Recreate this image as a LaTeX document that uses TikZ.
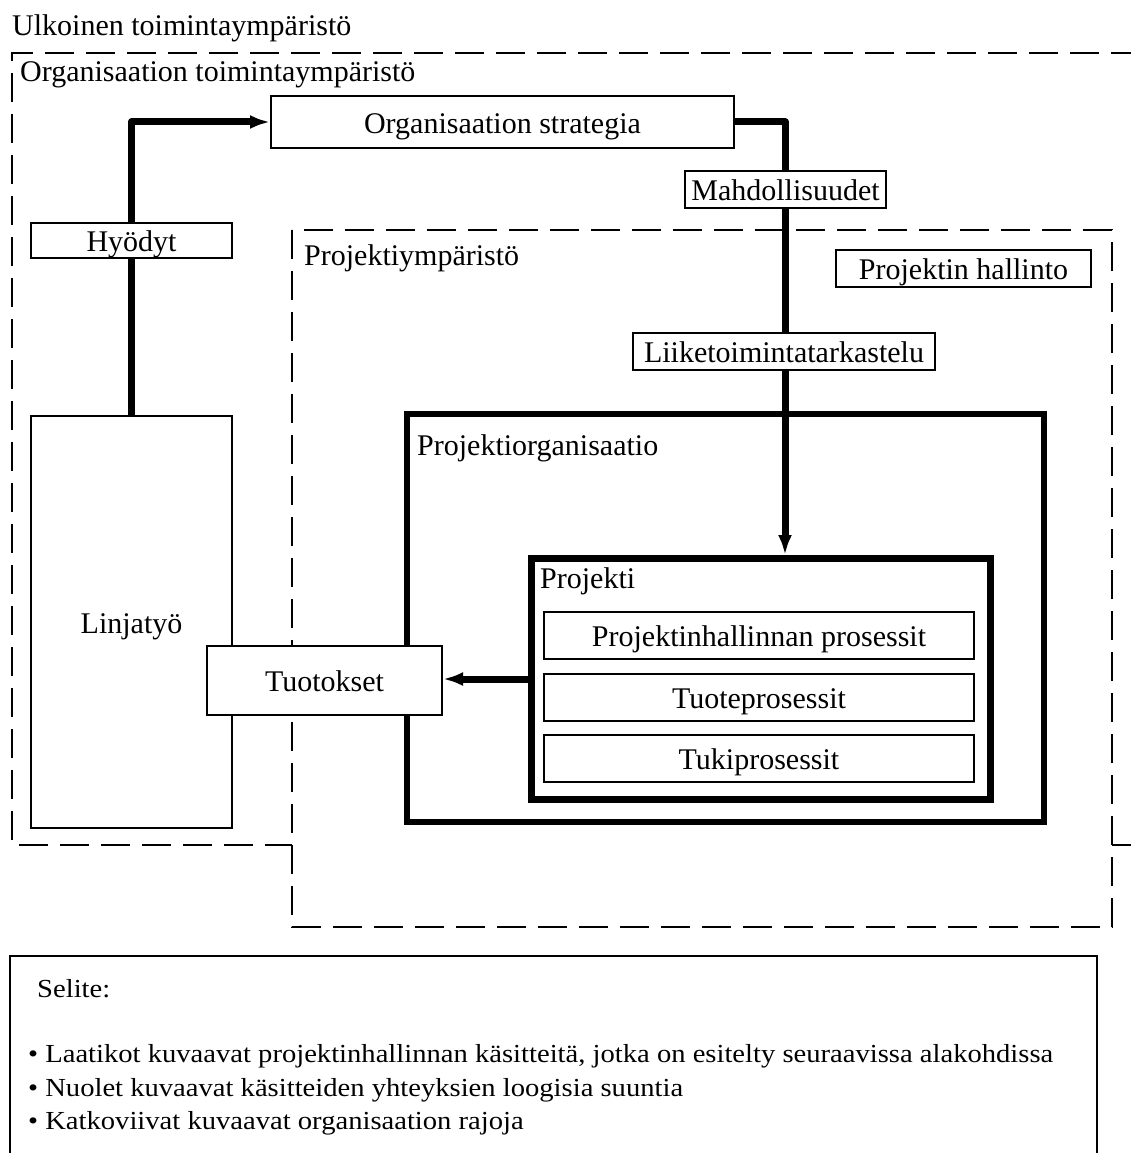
\documentclass[tikz,border=0pt]{standalone}
\usepackage{fontspec}
\setmainfont{Liberation Serif}
\newfontfamily\selitefont[FakeStretch=1.1]{Liberation Serif}
\usetikzlibrary{arrows.meta, positioning}

\begin{document}
\begin{tikzpicture}[
        x = 1pt, y = -1pt,
        font = \fontsize{30}{36}\selectfont,
        >= {Latex[length = 20pt, width = 14pt]},
        box/.style = {draw, line width = 2pt, fill = white, inner sep = 0pt,
            text height = 22pt, text depth = 0pt},
        thickbox/.style = {draw, line width = 6.5pt, inner sep = 0pt},
        region/.style = {draw, line width = 2pt, dash pattern = on 29pt off 12pt},
        frame/.style = {draw, line width = 2pt},
        conn/.style = {line width = 7pt, line join = round},
        title/.style = {anchor = base west, inner sep = 0pt},
        sel/.style = {anchor = base west, inner sep = 0pt,
            font = \selitefont\fontsize{26}{32}\selectfont}
    ]

    \clip (0,0) rectangle (1131,1153);

    % ympäristöt
    \node[title] (ulk) at (12,36) {Ulkoinen toimintaympäristö};
    \draw[region] (1140,53) -- (12,53) -- (12,845) -- (292,845);
    \draw[region] (1112,845) -- (1140,845);
    \node[title] (org_t) at (20,82) {Organisaation toimintaympäristö};
    \draw[region] (292,230) rectangle (1112,927);
    \node[title] (pymp_t) at (304,265) {Projektiympäristö};

    % laatikot
    \node[box, minimum width = 201pt, minimum height = 412pt] (linja) at (131.5,622) {Linjatyö};
    \node[thickbox, minimum width = 637pt, minimum height = 408pt] (porg) at (725.5,618) {};
    \node[title] (porg_t) at (417,455) {Projektiorganisaatio};
    \node[thickbox, line width = 7pt, minimum width = 459pt, minimum height = 241pt] (proj) at (761,679) {};
    \node[title] (proj_t) at (540,588) {Projekti};

    \begin{scope}[node distance = 61.5pt, on grid,
            every node/.style = {box, minimum width = 430pt, minimum height = 47pt}]
        \node (p_hall) at (759,635.5) {Projektinhallinnan prosessit};
        \node (p_tuote) [below = of p_hall] {Tuoteprosessit};
        \node (p_tuki) [below = of p_tuote] {Tukiprosessit};
    \end{scope}

    \node[box, minimum width = 235pt, minimum height = 69pt] (tuot) at (324.5,680) {Tuotokset};
    \node[box, minimum width = 463pt, minimum height = 51pt] (strat) at (502.5,122) {Organisaation strategia};

    % nuolet
    \coordinate (k1) at (785,122);
    \draw[conn, ->] (linja.north) |- (strat.west);
    \draw[conn, ->] (strat.east) -| (k1 |- proj.north);
    \draw[conn, ->] (proj.west) -- (proj.west -| tuot.east);

    % nuolten päällä
    \node[box, minimum width = 201pt, minimum height = 35pt] (hyod) at (131.5,240.5) {Hyödyt};
    \node[box, minimum width = 201pt, minimum height = 37pt] (mahd) at (785.5,189.5) {Mahdollisuudet};
    \node[box, minimum width = 255pt, minimum height = 37pt] (hall) at (963.5,268.5) {Projektin hallinto};
    \node[box, minimum width = 302pt, minimum height = 37pt] (liike) at (784,351.5) {Liiketoimintatarkastelu};

    % selite
    \draw[frame] (10,1170) -- (10,956) -- (1097,956) -- (1097,1170);
    \node[sel] (selite) at (37,997) {Selite:};
    \node[sel] (sel1) at (28,1062) {• Laatikot kuvaavat projektinhallinnan käsitteitä, jotka on esitelty seuraavissa alakohdissa};
    \node[sel] (sel2) at (28,1096) {• Nuolet kuvaavat käsitteiden yhteyksien loogisia suuntia};
    \node[sel] (sel3) at (28,1129) {• Katkoviivat kuvaavat organisaation rajoja};

\end{tikzpicture}
\end{document}
